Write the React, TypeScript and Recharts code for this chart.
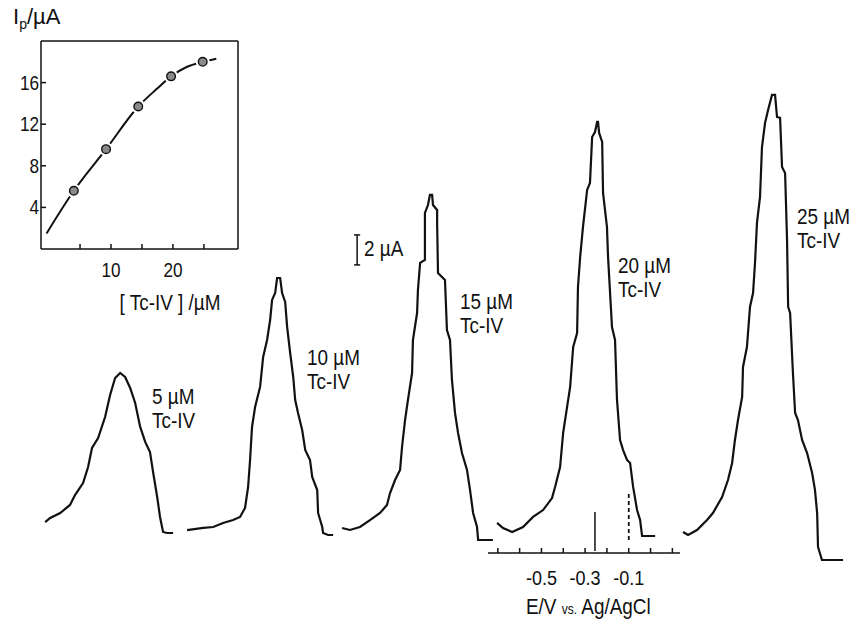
import React from "react";
import { LineChart, Line, XAxis, YAxis, ReferenceLine } from "recharts";

const FONT = "'Liberation Sans', Arial, sans-serif";
const INK = "#111";

// square-wave voltammograms: potential (V vs. Ag/AgCl) and current above the trace's own baseline (µA)
const e5 = [-0.603, -0.58, -0.534, -0.489, -0.466, -0.429, -0.406, -0.388, -0.36, -0.328, -0.305, -0.282, -0.259, -0.236, -0.213, -0.19, -0.167, -0.144, -0.122, -0.108, -0.089, -0.076, -0.062, -0.044, -0.016];
const i5 = [0.73, 1.0, 1.33, 1.87, 2.53, 3.33, 4.4, 5.67, 6.33, 7.73, 9.2, 10.33, 10.67, 10.4, 9.67, 8.67, 7.07, 6.07, 5.4, 4.07, 2.4, 1.07, 0.07, 0, 0];

const e10 = [-0.67, -0.596, -0.55, -0.505, -0.459, -0.427, -0.404, -0.39, -0.381, -0.372, -0.358, -0.335, -0.321, -0.303, -0.289, -0.28, -0.266, -0.257, -0.243, -0.234, -0.22, -0.211, -0.197, -0.183, -0.174, -0.161, -0.142, -0.128, -0.106, -0.096, -0.073, -0.069, -0.05, -0.046, -0.023, 0.0];
const i10 = [0.33, 0.47, 0.53, 0.8, 1.0, 1.2, 1.8, 3.2, 5.0, 7.2, 8.53, 9.87, 11.87, 13.0, 14.33, 15.67, 16.13, 17.13, 17.13, 16.13, 15.53, 13.87, 12.13, 10.53, 9.0, 8.13, 7.0, 5.67, 5.0, 3.87, 3.0, 1.47, 0.53, 0.13, 0, 0];

const e15 = [-0.658, -0.622, -0.576, -0.53, -0.484, -0.452, -0.438, -0.415, -0.392, -0.383, -0.369, -0.356, -0.337, -0.333, -0.314, -0.31, -0.3, -0.278, -0.278, -0.264, -0.255, -0.245, -0.241, -0.222, -0.222, -0.218, -0.186, -0.177, -0.163, -0.154, -0.14, -0.126, -0.108, -0.085, -0.071, -0.057, -0.039, -0.034, 0.034];
const i15 = [0.8, 0.67, 0.87, 1.33, 1.8, 2.33, 3.13, 4.0, 4.67, 6.2, 8.0, 9.33, 11.13, 13.33, 15.13, 16.67, 18.47, 18.67, 21.8, 22.33, 23.0, 23.0, 22.33, 22.0, 21.13, 17.8, 17.33, 14.0, 13.33, 10.67, 8.47, 7.13, 5.8, 4.67, 3.33, 1.8, 0.87, 0, 0];

const e20 = [-0.704, -0.677, -0.635, -0.585, -0.539, -0.493, -0.452, -0.438, -0.415, -0.401, -0.378, -0.369, -0.355, -0.337, -0.333, -0.323, -0.31, -0.291, -0.278, -0.268, -0.255, -0.245, -0.241, -0.236, -0.222, -0.218, -0.2, -0.195, -0.177, -0.163, -0.154, -0.14, -0.126, -0.108, -0.094, -0.08, -0.062, -0.048, -0.039, 0.021];
const i20 = [0.87, 0.53, 0.27, 0.6, 1.27, 1.73, 2.53, 3.27, 4.6, 6.87, 9.07, 9.93, 12.6, 13.53, 16.6, 18.6, 20.6, 23.07, 23.53, 26.6, 26.93, 27.6, 27.6, 26.87, 26.27, 22.87, 20.6, 18.6, 13.93, 13.07, 9.07, 6.4, 5.73, 5.07, 4.87, 3.27, 1.73, 1.07, 0, 0];

const e25 = [-0.665, -0.642, -0.601, -0.555, -0.528, -0.486, -0.459, -0.44, -0.427, -0.413, -0.394, -0.39, -0.372, -0.358, -0.344, -0.335, -0.326, -0.312, -0.303, -0.289, -0.275, -0.257, -0.243, -0.234, -0.22, -0.211, -0.197, -0.188, -0.183, -0.174, -0.161, -0.151, -0.138, -0.119, -0.096, -0.073, -0.06, -0.05, -0.046, -0.028, 0.069];
const i25 = [1.87, 1.67, 2.0, 2.67, 3.13, 4.2, 5.33, 6.47, 8.0, 9.33, 10.87, 12.87, 14.2, 16.87, 17.8, 19.8, 22.47, 24.2, 27.53, 29.13, 30.0, 31.0, 31.0, 29.53, 29.47, 26.2, 25.8, 21.33, 16.87, 16.47, 12.47, 9.8, 9.33, 8.0, 7.13, 5.8, 4.67, 3.13, 0.87, 0, 0];

const traceConc = ["5", "10", "15", "20", "25"];
// offsets used to lay the recordings side by side
const traceShiftE = [-2.174, -1.456, -0.757, 0, 0.814];
const traceBaseI = [6.0, 5.867, 5.533, 5.8, 4.2];

// inset: peak current vs concentration
const insetConc = [4.0, 9.2, 14.4, 19.7, 24.8];
const insetPeak = [5.6, 9.6, 13.7, 16.6, 18.0];
const fitConc = [-0.4, 4.0, 9.2, 14.4, 17.4, 19.7, 22.2, 24.8, 27.0];
const fitPeak = [1.5, 5.6, 9.6, 13.7, 15.4, 16.6, 17.5, 18.0, 18.3];
const insetXTicks = [5, 10, 15, 20, 25];
const insetYTicks = [4, 8, 12, 16];

const eTicks = [-0.7, -0.6, -0.5, -0.4, -0.3, -0.2, -0.1, 0, 0.1];
const eLabels = [-0.5, -0.3, -0.1];

const traces = [
  [e5, i5],
  [e10, i10],
  [e15, i15],
  [e20, i20],
  [e25, i25],
].map(([es, is], k) => es.map((e, j) => ({ x: e + traceShiftE[k], y: is[j] + traceBaseI[k] })));

const fitData = fitConc.map((x, j) => ({ x, y: fitPeak[j] }));
const pointData = insetConc.map((x, j) => ({ x, y: insetPeak[j] }));

// condensed lettering like the original figure
const NText = ({ x, y, size = 22, anchor = "start", children }: any) => (
  <text
    transform={`translate(${x},${y}) scale(0.86,1)`}
    fontSize={size}
    textAnchor={anchor}
    fontFamily={FONT}
    fill={INK}
  >
    {children}
  </text>
);

const LeftTick = (props: any) => (
  <NText x={props.x} y={props.y + 7} size={20} anchor="end">
    {props.payload.value}
  </NText>
);

const BottomTick = (props: any) => {
  const v = props.payload.value;
  const show = v % 10 === 0;
  return show ? (
    <NText x={props.x} y={props.y + 14} size={20} anchor="middle">
      {v}
    </NText>
  ) : (
    <g />
  );
};

const PotentialTick = (props: any) => {
  const v = props.payload.value;
  const show = eLabels.some((l) => Math.abs(l - v) < 1e-6);
  return show ? (
    <NText x={props.x} y={props.y + 15} size={21} anchor="middle">
      {v.toFixed(1)}
    </NText>
  ) : (
    <g />
  );
};

const InsetDot = (props: any) => {
  const { cx, cy, index } = props;
  return (
    <g key={"d" + index}>
      <circle cx={cx} cy={cy} r={7} fill="#fff" />
      <circle cx={cx} cy={cy} r={4.3} fill="#8a8a8a" stroke={INK} strokeWidth={1.4} />
    </g>
  );
};

function Inset() {
  return (
    <LineChart width={250} height={320} margin={{ top: 40, right: 11, bottom: 41, left: 11 }}>
      <XAxis
        xAxisId="b"
        type="number"
        dataKey="x"
        domain={[-1.3, 30.5]}
        ticks={insetXTicks}
        interval={0}
        tickSize={-5}
        tickMargin={19}
        height={30}
        stroke={INK}
        strokeWidth={1.5}
        tick={BottomTick}
        allowDataOverflow
      />
      <XAxis
        xAxisId="t"
        orientation="top"
        type="number"
        domain={[-1.3, 30.5]}
        ticks={insetXTicks}
        interval={0}
        tick={false}
        tickSize={-5}
        height={1}
        stroke={INK}
        strokeWidth={1.5}
        allowDataOverflow
      />
      <YAxis
        yAxisId="l"
        type="number"
        dataKey="y"
        domain={[0, 20]}
        ticks={insetYTicks}
        interval={0}
        tickSize={-5}
        tickMargin={7}
        width={30}
        stroke={INK}
        strokeWidth={1.5}
        tick={LeftTick}
        allowDataOverflow
      />
      <YAxis
        yAxisId="r"
        orientation="right"
        type="number"
        domain={[0, 20]}
        ticks={insetYTicks}
        interval={0}
        tick={false}
        tickSize={-5}
        width={1}
        stroke={INK}
        strokeWidth={1.5}
        allowDataOverflow
      />
      <Line
        xAxisId="b"
        yAxisId="l"
        data={fitData}
        dataKey="y"
        type="monotone"
        dot={false}
        stroke={INK}
        strokeWidth={2}
        isAnimationActive={false}
      />
      <Line
        xAxisId="b"
        yAxisId="l"
        data={pointData}
        dataKey="y"
        stroke="none"
        dot={InsetDot}
        isAnimationActive={false}
      />
    </LineChart>
  );
}

function PotentialAxis() {
  return (
    <LineChart
      width={192}
      height={153}
      margin={{ top: 0, right: 0, bottom: 0, left: 0 }}
      data={eTicks.map((e) => ({ e }))}
    >
      <XAxis
        type="number"
        dataKey="e"
        domain={[-0.745, 0.135]}
        ticks={eTicks}
        interval={0}
        tickSize={-5}
        tickMargin={22}
        height={70}
        stroke={INK}
        strokeWidth={1.5}
        tick={PotentialTick}
        allowDataOverflow
      />
      <YAxis hide domain={[0, 1]} />
    </LineChart>
  );
}

// label text: left edge and baseline of the first line
const labelPos = [
  { x: 152, y: 404 },
  { x: 307, y: 365 },
  { x: 460, y: 309 },
  { x: 618, y: 273 },
  { x: 797, y: 224 },
];

export default function App() {
  return (
    <div style={{ position: "absolute", left: 0, top: 0, width: 859, height: 623, background: "#fff" }}>
      <div style={{ position: "absolute", left: 0, top: 0 }}>
        <LineChart width={859} height={623} margin={{ top: 0, right: 0, bottom: 0, left: 0 }}>
          <XAxis type="number" dataKey="x" domain={[-2.984, 0.956]} hide allowDataOverflow />
          <YAxis type="number" domain={[0, 41.53]} hide allowDataOverflow />
          {traces.map((d, k) => (
            <Line
              key={k}
              data={d}
              dataKey="y"
              type="linear"
              dot={false}
              stroke={INK}
              strokeWidth={2.2}
              isAnimationActive={false}
            />
          ))}
          {/* 2 µA scale bar */}
          <ReferenceLine segment={[{ x: -1.346, y: 23.87 }, { x: -1.346, y: 25.87 }]} stroke={INK} strokeWidth={1.5} />
          <ReferenceLine segment={[{ x: -1.36, y: 23.87 }, { x: -1.332, y: 23.87 }]} stroke={INK} strokeWidth={1.5} />
          <ReferenceLine segment={[{ x: -1.36, y: 25.87 }, { x: -1.332, y: 25.87 }]} stroke={INK} strokeWidth={1.5} />
          {/* peak potential markers under the 20 µM trace */}
          <ReferenceLine segment={[{ x: -0.255, y: 4.8 }, { x: -0.255, y: 7.4 }]} stroke={INK} strokeWidth={1.5} />
          <ReferenceLine
            segment={[{ x: -0.1, y: 5.53 }, { x: -0.1, y: 8.8 }]}
            stroke={INK}
            strokeWidth={1.8}
            strokeDasharray="4 3"
          />
        </LineChart>
      </div>
      <div style={{ position: "absolute", left: 0, top: 0 }}>
        <Inset />
      </div>
      <div style={{ position: "absolute", left: 488, top: 470 }}>
        <PotentialAxis />
      </div>
      <svg
        width={859}
        height={623}
        style={{ position: "absolute", left: 0, top: 0, pointerEvents: "none" }}
      >
        <text x={13} y={24} fontSize={22} fontFamily={FONT} fill={INK}>
          I<tspan fontSize={14} dy={5}>p</tspan>
          <tspan dy={-5}>/µA</tspan>
        </text>
        <NText x={170} y={310} size={22} anchor="middle">
          [ Tc-IV ] /µM
        </NText>
        <NText x={364} y={256} size={22}>
          2 µA
        </NText>
        <NText x={526} y={614} size={22}>
          E/V <tspan fontSize={14}>vs.</tspan> Ag/AgCl
        </NText>
        {labelPos.map((p, k) => (
          <g key={k}>
            <NText x={p.x} y={p.y} size={22}>
              {traceConc[k]} µM
            </NText>
            <NText x={p.x} y={p.y + 24} size={22}>
              Tc-IV
            </NText>
          </g>
        ))}
      </svg>
    </div>
  );
}
